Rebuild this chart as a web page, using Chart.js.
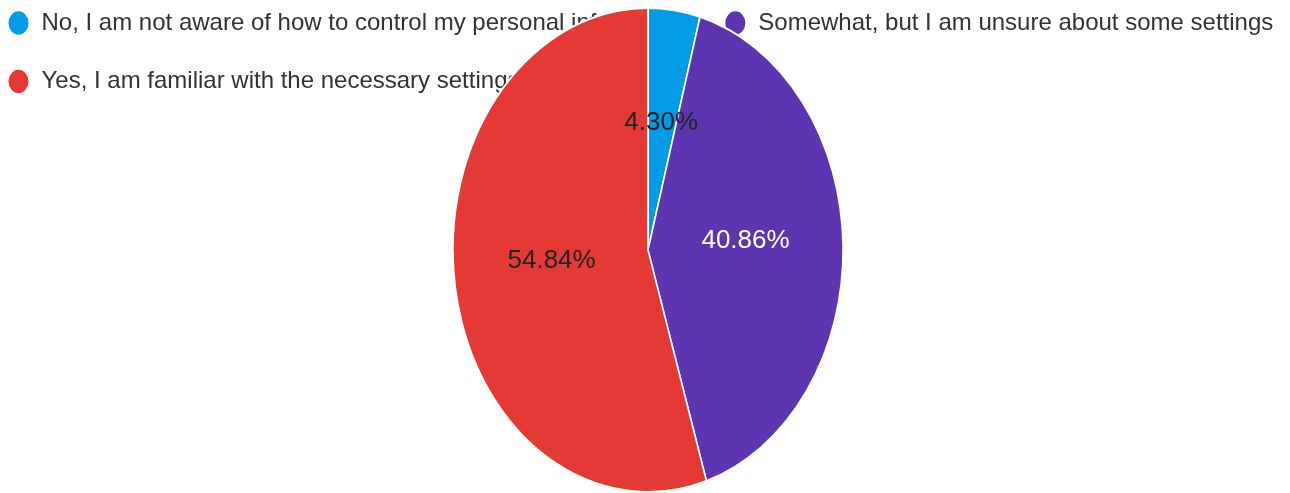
<!DOCTYPE html>
<html>
<head>
<meta charset="utf-8">
<title>Privacy settings awareness</title>
<script src="https://cdn.jsdelivr.net/npm/chart.js@4.4.1/dist/chart.umd.min.js"></script>
<style>
  html, body { margin: 0; padding: 0; background: #fff; overflow: hidden; }
  #pie-chart { display: block; margin-left: 6px; }
</style>
</head>
<body>
<canvas id="pie-chart" width="1284" height="493"></canvas>
<script>
var answers = [
    "No, I am not aware of how to control my personal information",
    "Somewhat, but I am unsure about some settings",
    "Yes, I am familiar with the necessary settings"
];
var shares = [4.30, 40.86, 54.84];
var sliceColors = ["#039be5", "#5e35b1", "#e53935"];
var labelColors = ["#222222", "#ffffff", "#222222"];

var fontFamily = '"Liberation Sans", Arial, Helvetica, sans-serif';

// pie is squeezed sideways into a tall oval
var squeeze = 0.806;

var ovalPie = {
    id: 'ovalPie',
    beforeDatasetsDraw: function(chart) {
        var arc = chart.getDatasetMeta(0).data[0];
        var ctx = chart.ctx;
        ctx.save();
        ctx.translate(arc.x, arc.y);
        ctx.scale(squeeze, 1);
        ctx.translate(-arc.x, -arc.y);
    },
    afterDatasetsDraw: function(chart) {
        var ctx = chart.ctx;
        ctx.restore();

        // percentage text in the middle of each slice
        var meta = chart.getDatasetMeta(0);
        ctx.save();
        ctx.font = '26px ' + fontFamily;
        ctx.textAlign = 'center';
        ctx.textBaseline = 'alphabetic';
        meta.data.forEach(function(arc, i) {
            var p = arc.tooltipPosition();
            var x = arc.x + (p.x - arc.x) * squeeze;
            ctx.fillStyle = labelColors[i];
            ctx.fillText(shares[i].toFixed(2) + '%', x, p.y);
        });
        ctx.restore();
    }
};

new Chart(document.getElementById("pie-chart"), {
    type: 'pie',
    data: {
        labels: answers,
        datasets: [{
            data: shares,
            backgroundColor: sliceColors,
            borderColor: '#ffffff',
            borderWidth: 2,
            hoverOffset: 0,
            radius: 242
        }]
    },
    options: {
        responsive: false,
        devicePixelRatio: 1,
        animation: false,
        layout: {
            // negative sides only move the legend; the pie stays centred
            padding: { top: -23.5, left: -33, right: -39, bottom: 96.5 }
        },
        plugins: {
            legend: {
                position: 'top',
                align: 'start',
                labels: {
                    usePointStyle: true,
                    pointStyle: 'circle',
                    pointStyleWidth: 22,
                    boxHeight: 18,
                    padding: 34.5,
                    color: '#333333',
                    font: { family: fontFamily, size: 24 }
                }
            },
            tooltip: { enabled: false }
        }
    },
    plugins: [ovalPie]
});
</script>
</body>
</html>
